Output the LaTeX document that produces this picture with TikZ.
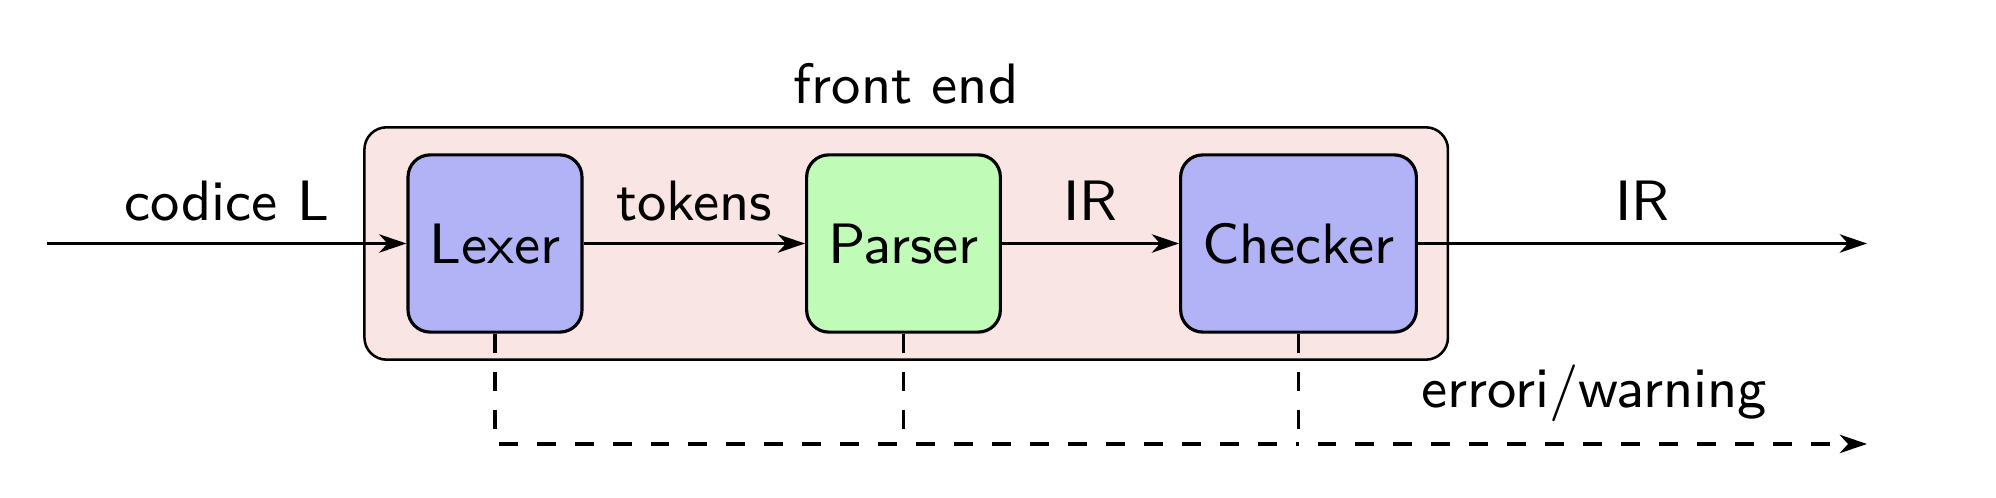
\documentclass[tikz,border=0pt]{standalone}
\usepackage{fontspec}
\usetikzlibrary{arrows.meta,backgrounds,fit,calc}
\definecolor{stageblue}{RGB}{178,178,246}
\definecolor{stagegreen}{RGB}{192,252,184}
\definecolor{frontpink}{RGB}{250,229,229}
\begin{document}
\begin{tikzpicture}[x=0.158pt, y=-0.158pt,
  font=\fontsize{9}{11}\selectfont\sffamily,
  line width=0.5pt,
  stage/.style={draw, rounded corners=3.5pt, minimum height=28pt,
    inner xsep=3.4pt, text height=6.25pt, text depth=0pt},
  frontbox/.style={draw, fill=frontpink, rounded corners=3.5pt, inner sep=0pt},
  flow/.style={-{Stealth[length=4.3pt,width=2.9pt,inset=1.3pt]}},
  errflow/.style={dashed},
  lbl/.style={above}]
\useasboundingbox (0,0) rectangle (1996,498);

\node[stage, fill=stageblue]  (lexer)   at (495,243.5)  {Lexer};
\node[stage, fill=stagegreen] (parser)  at (903.5,243.5) {Parser};
\node[stage, fill=stageblue]  (checker) at (1298.5,243.5) {Checker};

\coordinate (fnw) at ($(lexer.north west)+(-42,-26)$);
\coordinate (fse) at ($(checker.south east)+(30,26)$);
\begin{scope}[on background layer]
  \node[frontbox, fit=(fnw)(fse), label={[lbl]above:front end}] (front) {};
\end{scope}

\coordinate (in)  at (47,243.5);
\coordinate (out) at (1867,243.5);
\coordinate (errend) at (1867,444);
\coordinate (cp) at (checker.south |- errend);

\draw[flow] (in) -- node[lbl] {codice L} (lexer);
\draw[flow] (lexer) -- node[lbl] {tokens} (parser);
\draw[flow] (parser) -- node[lbl] {IR} (checker);
\draw[flow] (checker) -- node[lbl] {IR} (out);

\draw[errflow] (lexer.south) |- (cp);
\draw[errflow] (parser.south) -- (parser.south |- errend);
\draw[errflow] (checker.south) -- (cp);
\draw[errflow, flow, dash phase=3pt] (cp) -- node[lbl, pos=0.52] {errori/warning} (errend);
\end{tikzpicture}
\end{document}
